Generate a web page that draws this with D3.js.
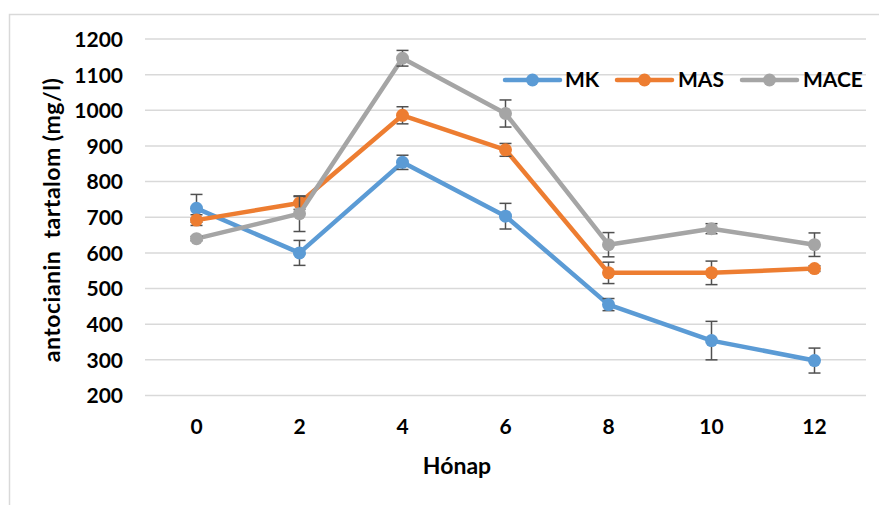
<!DOCTYPE html>
<html>
<head>
<meta charset="utf-8">
<script src="https://cdn.jsdelivr.net/npm/d3@7"></script>
<style>
  html, body { margin: 0; padding: 0; background: #fff; }
  svg text { font-family: Lato, Calibri, "Open Sans", sans-serif; font-weight: bold; fill: #000; white-space: pre; }
</style>
</head>
<body>
<svg id="chart" width="879" height="505"></svg>
<script>
// Storage time in months (category axis)
const months = ["0", "2", "4", "6", "8", "10", "12"];

// Anthocyanin content (mg/l) and standard deviations per treatment
const mkValues   = [725, 600, 854, 703, 455, 354, 298];
const mkErrors   = [39, 35, 20, 36, 17, 54, 35];
const masValues  = [692, 740, 986, 889, 544, 544, 556];
const masErrors  = [15, 18, 24, 18, 30, 33, 8];
const maceValues = [640, 710, 1146, 991, 623, 668, 623];
const maceErrors = [6, 50, 22, 38, 34, 14, 33];

const seriesNames  = ["MK", "MAS", "MACE"];
const seriesColors = ["#5B9BD5", "#ED7D31", "#A5A5A5"];
const yTicks = [200, 300, 400, 500, 600, 700, 800, 900, 1000, 1100, 1200];

const series = [
  { name: seriesNames[0], color: seriesColors[0], values: mkValues,   errors: mkErrors },
  { name: seriesNames[1], color: seriesColors[1], values: masValues,  errors: masErrors },
  { name: seriesNames[2], color: seriesColors[2], values: maceValues, errors: maceErrors }
];

const svg = d3.select("#chart");

// chart area frame
svg.append("rect")
  .attr("x", 9.5).attr("y", 14.5)
  .attr("width", 900).attr("height", 520)
  .attr("fill", "none").attr("stroke", "#d9d9d9").attr("stroke-width", 1.5);

const plot = { left: 145, right: 866, top: 39, bottom: 395.5 };

const x = d3.scaleBand().domain(months).range([plot.left, plot.right]);
const y = d3.scaleLinear().domain([200, 1200]).range([plot.bottom, plot.top]);
const cx = m => x(m) + x.bandwidth() / 2;

// horizontal gridlines
svg.append("g")
  .selectAll("line")
  .data(yTicks)
  .join("line")
  .attr("x1", plot.left).attr("x2", plot.right)
  .attr("y1", d => y(d)).attr("y2", d => y(d))
  .attr("stroke", "#d9d9d9").attr("stroke-width", 1.5);

const tickFont = 21;

// y axis labels
const yAxis = d3.axisLeft(y).tickValues(yTicks).tickFormat(d3.format("d")).tickSize(0).tickPadding(0);
const gy = svg.append("g").attr("transform", `translate(123,0)`).call(yAxis);
gy.select(".domain").remove();
gy.selectAll("text")
  .attr("font-size", tickFont).attr("dy", "0.35em")
  .style("font-family", "Lato, Calibri, sans-serif").style("font-weight", "bold").attr("fill", "#000");

// x axis labels
const xAxis = d3.axisBottom(x).tickSize(0).tickPadding(0);
const gx = svg.append("g").attr("transform", `translate(0,427)`).call(xAxis);
gx.select(".domain").remove();
gx.selectAll("text")
  .attr("font-size", tickFont).attr("dy", "0.35em").attr("y", 0)
  .style("font-family", "Lato, Calibri, sans-serif").style("font-weight", "bold").attr("fill", "#000");

// axis titles
svg.append("text")
  .attr("x", 457).attr("y", 474)
  .attr("text-anchor", "middle").attr("font-size", 23)
  .text("Hónap");

svg.append("text")
  .attr("transform", "translate(60,220) rotate(-90)")
  .attr("text-anchor", "middle").attr("font-size", 23)
  .attr("letter-spacing", 0.5)
  .text("antocianin  tartalom (mg/l)");

// series: line, error bars, markers
const line = d3.line().x((d, i) => cx(months[i])).y(d => y(d));
const capHalf = 6;

series.forEach(s => {
  const g = svg.append("g");
  g.append("path")
    .attr("d", line(s.values))
    .attr("fill", "none").attr("stroke", s.color)
    .attr("stroke-width", 4.5).attr("stroke-linejoin", "round").attr("stroke-linecap", "round");

  const eb = g.append("g").attr("stroke", "#505050").attr("stroke-width", 1.5);
  s.values.forEach((v, i) => {
    const px = cx(months[i]);
    const yt = y(v + s.errors[i]), yb = y(v - s.errors[i]);
    eb.append("line").attr("x1", px).attr("x2", px).attr("y1", yt).attr("y2", yb);
    eb.append("line").attr("x1", px - capHalf).attr("x2", px + capHalf).attr("y1", yt).attr("y2", yt);
    eb.append("line").attr("x1", px - capHalf).attr("x2", px + capHalf).attr("y1", yb).attr("y2", yb);
  });

  g.selectAll("circle")
    .data(s.values)
    .join("circle")
    .attr("cx", (d, i) => cx(months[i]))
    .attr("cy", d => y(d))
    .attr("r", 6.5)
    .attr("fill", s.color);
});

// legend
const legendItems = [
  { x0: 505, tx: 565 },
  { x0: 617, tx: 678 },
  { x0: 742, tx: 803 }
];
const legend = svg.append("g");
series.forEach((s, i) => {
  const li = legendItems[i];
  const ly = 80;
  legend.append("line")
    .attr("x1", li.x0).attr("x2", li.x0 + 55).attr("y1", ly).attr("y2", ly)
    .attr("stroke", s.color).attr("stroke-width", 4.5).attr("stroke-linecap", "round");
  legend.append("circle")
    .attr("cx", li.x0 + 27.5).attr("cy", ly).attr("r", 6.5).attr("fill", s.color);
  legend.append("text")
    .attr("x", li.tx).attr("y", ly).attr("dy", "0.35em")
    .attr("font-size", 21)
    .text(s.name);
});
</script>
</body>
</html>
